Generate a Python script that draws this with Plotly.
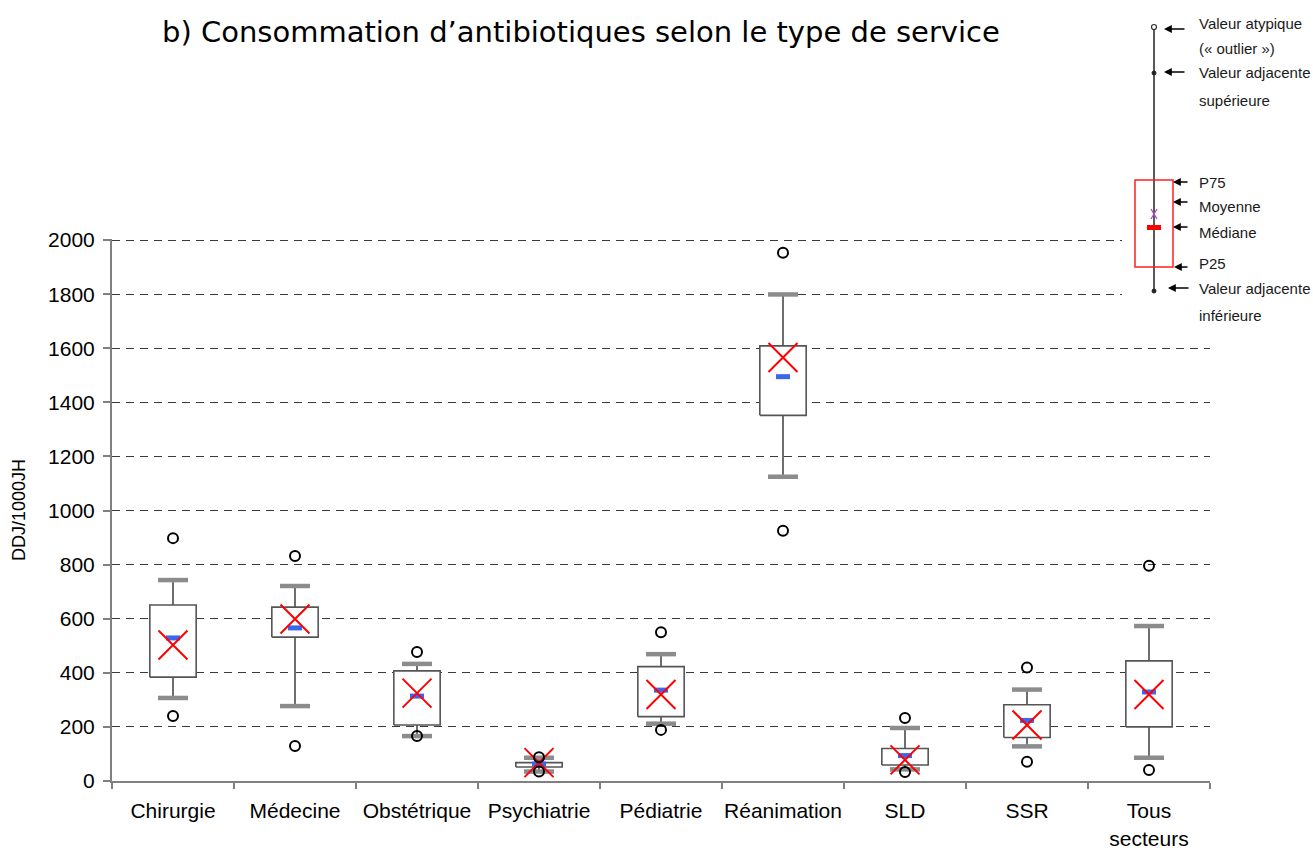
import plotly.graph_objects as go

# ---------------- data (DDJ/1000JH) ----------------
categories = ["Chirurgie", "Médecine", "Obstétrique", "Psychiatrie", "Pédiatrie",
              "Réanimation", "SLD", "SSR", "Tous<br>secteurs"]
p25 = [384, 532, 207, 52, 238, 1352, 59, 161, 200]
p75 = [651, 643, 407, 68, 423, 1609, 120, 282, 444]
median = [529, 566, 314, 63, 336, 1495, 94, 224, 329]
mean = [503, 599, 325, 68, 320, 1566, 78, 207, 320]
adj_low = [307, 277, 166, 35, 212, 1125, 43, 128, 86]
adj_high = [743, 721, 433, 86, 469, 1799, 196, 338, 573]
out_low = [240, 129, 166, 35, 189, 925, 33, 71, 41]
out_high = [898, 832, 477, 88, 550, 1953, 233, 420, 796]
y_ticks = [0, 200, 400, 600, 800, 1000, 1200, 1400, 1600, 1800, 2000]

title_text = "b) Consommation d’antibiotiques selon le type de service"
y_title = "DDJ/1000JH"
legend_labels = [
    ("Valeur atypique", 24), ("(« outlier »)", 48),
    ("Valeur adjacente", 73), ("supérieure", 100),
    ("P75", 182), ("Moyenne", 207), ("Médiane", 233), ("P25", 263),
    ("Valeur adjacente", 288), ("inférieure", 315),
]

W, H = 1313, 850
ML, MR, MT, MB = 112, 103, 239, 69
PW, PH = W - ML - MR, H - MT - MB
Y_MAX = 2004

BOX_HW = 0.19
CAP_HW = 0.123

xs = list(range(len(categories)))

fig = go.Figure()

# whiskers
wx, wy = [], []
for i in xs:
    wx += [i, i, None, i, i, None]
    wy += [p75[i], adj_high[i], None, p25[i], adj_low[i], None]
fig.add_trace(go.Scatter(x=wx, y=wy, mode="lines",
                         line=dict(color="#6e6e6e", width=2), hoverinfo="skip"))

# caps
cx, cy = [], []
for i in xs:
    cx += [i - CAP_HW, i + CAP_HW, None, i - CAP_HW, i + CAP_HW, None]
    cy += [adj_high[i], adj_high[i], None, adj_low[i], adj_low[i], None]
fig.add_trace(go.Scatter(x=cx, y=cy, mode="lines",
                         line=dict(color="#8c8c8c", width=4.5), hoverinfo="skip"))

# boxes
bx, by = [], []
for i in xs:
    bx += [i - BOX_HW, i + BOX_HW, i + BOX_HW, i - BOX_HW, i - BOX_HW, None]
    by += [p25[i], p25[i], p75[i], p75[i], p25[i], None]
fig.add_trace(go.Scatter(x=bx, y=by, mode="lines", fill="toself", fillcolor="white",
                         line=dict(color="#555555", width=1.6), hoverinfo="skip"))

# medians
fig.add_trace(go.Scatter(x=xs, y=median, mode="markers",
                         marker=dict(symbol="line-ew", size=10,
                                     line=dict(color="#3a66f0", width=5)),
                         cliponaxis=False))

# means
fig.add_trace(go.Scatter(x=xs, y=mean, mode="markers",
                         marker=dict(symbol="x-thin", size=29,
                                     line=dict(color="#ff0000", width=2)),
                         cliponaxis=False))

# outliers
fig.add_trace(go.Scatter(x=xs + xs, y=out_high + out_low, mode="markers",
                         marker=dict(symbol="circle-open", size=10, color="black",
                                     line=dict(color="black", width=2)),
                         cliponaxis=False))


def fx(px):
    return (px - ML) / PW


def fy(py):
    return (MT + PH - py) / PH


shapes = []
# white background of the schematic legend (covers gridlines)
shapes.append(dict(type="rect", xref="paper", yref="paper",
                   x0=fx(1122), x1=fx(1313), y0=fy(330), y1=fy(0),
                   fillcolor="white", line=dict(width=0), layer="above"))
# vertical line
shapes.append(dict(type="line", xref="paper", yref="paper",
                   x0=fx(1154), x1=fx(1154), y0=fy(27), y1=fy(291),
                   line=dict(color="black", width=1.3), layer="above"))
# red box
shapes.append(dict(type="rect", xref="paper", yref="paper",
                   x0=fx(1135), x1=fx(1173), y0=fy(267), y1=fy(180),
                   line=dict(color="#ff2020", width=1.5), layer="above"))
# median bar
shapes.append(dict(type="rect", xref="paper", yref="paper",
                   x0=fx(1147), x1=fx(1161), y0=fy(230), y1=fy(225),
                   fillcolor="#ff0000", line=dict(width=0), layer="above"))
# purple X
for (a, b) in [((1151, 209), (1157, 219)), ((1157, 209), (1151, 219))]:
    shapes.append(dict(type="line", xref="paper", yref="paper",
                       x0=fx(a[0]), y0=fy(a[1]), x1=fx(b[0]), y1=fy(b[1]),
                       line=dict(color="#a050c0", width=1.3), layer="above"))
# outlier small circle
shapes.append(dict(type="circle", xref="paper", yref="paper",
                   x0=fx(1151.5), x1=fx(1156.5), y0=fy(29.5), y1=fy(24.5),
                   fillcolor="white", line=dict(color="#333333", width=1.2), layer="above"))
# adjacent dots
for yy in (73, 291):
    shapes.append(dict(type="circle", xref="paper", yref="paper",
                       x0=fx(1152), x1=fx(1156), y0=fy(yy + 2), y1=fy(yy - 2),
                       fillcolor="#222222", line=dict(color="#222222", width=1), layer="above"))

annotations = []
annotations.append(dict(text=title_text, xref="paper", yref="paper",
                        x=fx(160), y=fy(32), xanchor="left", yanchor="middle",
                        showarrow=False,
                        font=dict(family="DejaVu Sans", size=29, color="black")))
for txt, yy in legend_labels:
    annotations.append(dict(text=txt, xref="paper", yref="paper",
                            x=fx(1197), y=fy(yy), xanchor="left", yanchor="middle",
                            showarrow=False,
                            font=dict(family="Liberation Sans", size=15, color="#1a1a1a")))
arrows = [(1164, 29, 22), (1164, 72, 22), (1173, 182, 16), (1173, 202, 16),
          (1173, 227, 16), (1174, 267, 15), (1168, 288, 22)]
for tip, yy, ln in arrows:
    annotations.append(dict(text="", xref="paper", yref="paper",
                            x=fx(tip), y=fy(yy), ax=ln, ay=0,
                            showarrow=True, arrowhead=2, arrowsize=1.2,
                            arrowwidth=1.3, arrowcolor="black", standoff=0))

fig.update_layout(
    template="none",
    width=W, height=H,
    margin=dict(l=ML, r=MR, t=MT, b=MB, pad=0),
    plot_bgcolor="white", paper_bgcolor="white",
    showlegend=False,
    font=dict(family="Liberation Sans, Arial", color="black"),
    shapes=shapes, annotations=annotations,
    xaxis=dict(range=[-0.5, len(categories) - 0.5], tickmode="array",
               tickvals=xs, ticktext=categories, ticks="", automargin=False,
               showgrid=False, zeroline=False, showline=True,
               linecolor="#808080", linewidth=2,
               tickfont=dict(size=21, color="black"), ticklabelstandoff=10,
               minor=dict(tickmode="array",
                          tickvals=[i - 0.5 for i in range(len(categories) + 1)],
                          ticks="outside", ticklen=6, tickwidth=1.5,
                          tickcolor="#808080", showgrid=False)),
    yaxis=dict(range=[0, Y_MAX], tickmode="array", tickvals=y_ticks, automargin=False,
               showgrid=True, gridcolor="#3a3a3a", gridwidth=1, griddash="8px,6px",
               zeroline=False, showline=True, linecolor="#808080", linewidth=2,
               ticks="outside", ticklen=7, tickwidth=1.5, tickcolor="#808080",
               tickfont=dict(size=21, color="black"), ticklabelstandoff=4,
               title=dict(text=y_title, font=dict(size=18, color="black"), standoff=18)),
)

fig.write_html("out.html", config={"displayModeBar": False},
               post_script="document.body.style.margin='0';document.body.style.padding='0';")
